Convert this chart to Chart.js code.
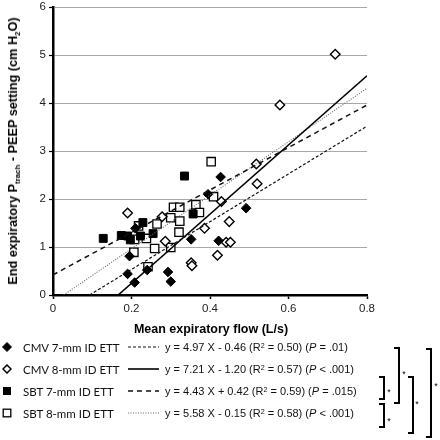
<!DOCTYPE html>
<html>
<head>
<meta charset="utf-8">
<script src="https://cdn.jsdelivr.net/npm/chart.js@4.4.1/dist/chart.umd.min.js"></script>
<style>
  html, body { margin: 0; padding: 0; background: #fff; }
  #wrap { position: relative; width: 440px; height: 440px; overflow: hidden; font-family: "Liberation Sans", Arial, sans-serif; color: #000; }
  #c { position: absolute; left: 0; top: 0; }
  .abs { position: absolute; white-space: nowrap; }
  .ytitle { left: 13px; top: 151px; transform: translate(-50%, -50%) rotate(-90deg); font-weight: bold; font-size: 12.7px; }
  .xtitle { left: 211px; top: 329px; transform: translate(-50%, -50%); font-weight: bold; font-size: 12.5px; }
  sub { font-size: 0.62em; vertical-align: -0.35em; line-height: 0; }
  .lab { font-family: Lato, "Open Sans", sans-serif; font-size: 11.5px; transform: translateY(-50%); color: #111; }
  .eq { font-size: 11px; transform: translateY(-50%); color: #111; }
  .eq sup { font-size: 0.65em; vertical-align: 0.45em; line-height: 0; }
  .br { position: absolute; border-top: 2.5px solid #000; border-right: 2.5px solid #000; border-bottom: 2.5px solid #000; width: 4px; box-sizing: content-box; }
  .star { position: absolute; font-size: 9px; transform: translate(-50%, -50%); }
</style>
</head>
<body>
<div id="wrap">
  <canvas id="c" width="440" height="440"></canvas>
  <div id="overlay"></div>
</div>
<script>
// ---- data ----
const seriesNames = ["CMV 7-mm ID ETT", "CMV 8-mm ID ETT", "SBT 7-mm ID ETT", "SBT 8-mm ID ETT"];
const equations = [
  'y = 4.97 X - 0.46 (R<sup>2</sup> = 0.50) (<i>P</i> = .01)',
  'y = 7.21 X - 1.20 (R<sup>2</sup> = 0.57) (<i>P</i> &lt; .001)',
  'y = 4.43 X + 0.42 (R<sup>2</sup> = 0.59) (<i>P</i> = .015)',
  'y = 5.58 X - 0.15 (R<sup>2</sup> = 0.58) (<i>P</i> &lt; .001)'
];
const xTicks = [0, 0.2, 0.4, 0.6, 0.8];
const yTicks = [0, 1, 2, 3, 4, 5, 6];

const cmv7X = [0.427, 0.395, 0.352, 0.422, 0.195, 0.210, 0.190, 0.240, 0.208, 0.293, 0.300, 0.492];
const cmv7Y = [2.46, 2.10, 1.16, 1.13, 0.81, 1.39, 0.44, 0.52, 0.26, 0.48, 0.28, 1.81];

const cmv8X = [0.719, 0.578, 0.518, 0.520, 0.190, 0.278, 0.286, 0.352, 0.354, 0.386, 0.449, 0.441, 0.452, 0.419, 0.429];
const cmv8Y = [5.02, 3.96, 2.73, 2.32, 1.71, 1.63, 1.12, 0.67, 0.61, 1.39, 1.53, 1.10, 1.10, 0.83, 1.95];

const sbt7X = [0.335, 0.128, 0.174, 0.190, 0.197, 0.223, 0.229, 0.255, 0.357];
const sbt7Y = [2.48, 1.18, 1.24, 1.23, 1.15, 1.23, 1.51, 1.28, 1.69];

const sbt8X = [0.403, 0.409, 0.364, 0.373, 0.307, 0.323, 0.300, 0.323, 0.321, 0.265, 0.238, 0.208, 0.206, 0.259, 0.300, 0.242, 0.218];
const sbt8Y = [2.78, 2.05, 1.88, 1.72, 1.83, 1.83, 1.61, 1.54, 1.31, 1.48, 1.18, 1.16, 0.89, 0.97, 0.99, 0.59, 1.44];

// regression line end points (from the printed equations)
const cmv7FitX = [0.093, 0.8], cmv7FitY = [0, 3.52];
const cmv8FitX = [0.166, 0.8], cmv8FitY = [0, 4.57];
const sbt7FitX = [0, 0.8],     sbt7FitY = [0.42, 3.96];
const sbt8FitX = [0.027, 0.8], sbt8FitY = [0, 4.31];

// ---- build chart ----
const pts = (xs, ys) => xs.map((x, i) => ({ x: x, y: ys[i] }));

const lineStyles = [
  { color: '#111', width: 1.2, dash: [3, 2] },
  { color: '#000', width: 1.6, dash: [] },
  { color: '#111', width: 1.5, dash: [5, 4] },
  { color: '#666', width: 1.1, dash: [1, 1.5] }
];
const fits = [[cmv7FitX, cmv7FitY], [cmv8FitX, cmv8FitY], [sbt7FitX, sbt7FitY], [sbt8FitX, sbt8FitY]];

const lineSets = fits.map((f, i) => ({
  type: 'line',
  label: seriesNames[i] + ' fit',
  data: pts(f[0], f[1]),
  borderColor: lineStyles[i].color,
  borderWidth: lineStyles[i].width,
  borderDash: lineStyles[i].dash,
  pointRadius: 0,
  fill: false,
  tension: 0,
  order: 1
}));

const scatterSets = [
  { label: seriesNames[0], data: pts(cmv7X, cmv7Y), pointStyle: 'rectRot', pointRadius: 4.8, backgroundColor: '#000', borderColor: '#000', borderWidth: 1 },
  { label: seriesNames[1], data: pts(cmv8X, cmv8Y), pointStyle: 'rectRot', pointRadius: 4.8, backgroundColor: '#fff', borderColor: '#000', borderWidth: 1.4 },
  { label: seriesNames[2], data: pts(sbt7X, sbt7Y), pointStyle: 'rect', pointRadius: 5.6, backgroundColor: '#000', borderColor: '#000', borderWidth: 1 },
  { label: seriesNames[3], data: pts(sbt8X, sbt8Y), pointStyle: 'rect', pointRadius: 5.9, backgroundColor: '#fff', borderColor: '#000', borderWidth: 1.3 }
].map(d => Object.assign({ type: 'scatter', showLine: false, order: 2 }, d));

const tickFont = { family: '"Liberation Sans", Arial, sans-serif', size: 11.5 };

new Chart(document.getElementById('c'), {
  type: 'scatter',
  data: { datasets: lineSets.concat(scatterSets) },
  options: {
    responsive: false,
    animation: false,
    events: [],
    layout: { padding: { left: 0, right: 73, top: 7, bottom: 125 } },
    plugins: { legend: { display: false }, tooltip: { enabled: false }, title: { display: false } },
    scales: {
      x: {
        type: 'linear', min: xTicks[0], max: xTicks[xTicks.length - 1],
        afterBuildTicks: s => { s.ticks = xTicks.map(v => ({ value: v })); },
        ticks: { font: tickFont, color: '#222', padding: 3, maxRotation: 0, callback: v => String(v) },
        grid: { drawOnChartArea: false, drawTicks: true, tickLength: 4, tickColor: '#000', tickWidth: 1.5 },
        border: { display: true, color: '#000', width: 2.5 },
        afterFit: s => { s.height = 20; s.paddingLeft = 0; s.paddingRight = 0; }
      },
      y: {
        type: 'linear', min: yTicks[0], max: yTicks[yTicks.length - 1],
        afterBuildTicks: s => { s.ticks = yTicks.map(v => ({ value: v })); },
        ticks: { font: tickFont, color: '#222', padding: 3, callback: v => String(v) },
        grid: { color: '#a8a8a8', lineWidth: 1, drawTicks: true, tickLength: 4, tickColor: '#000', tickWidth: 1.2 },
        border: { display: true, color: '#000', width: 2.5 },
        afterFit: s => { s.width = 53; s.paddingTop = 0; s.paddingBottom = 0; }
      }
    }
  }
});

// ---- overlay text: axis titles, legend table, significance brackets ----
const ov = document.getElementById('overlay');
function add(html) { ov.insertAdjacentHTML('beforeend', html); }

add('<div class="abs ytitle">End expiratory P<sub>trach</sub> - PEEP setting (cm H<sub>2</sub>O)</div>');
add('<div class="abs xtitle">Mean expiratory flow (L/s)</div>');

const rowY = [347, 369, 391, 413];
const markerSvg = [
  '<polygon points="5,0.5 9.5,5 5,9.5 0.5,5" fill="#000" stroke="#000" stroke-width="1"/>',
  '<polygon points="5,1 9,5 5,9 1,5" fill="#fff" stroke="#000" stroke-width="1.5"/>',
  '<rect x="1" y="1" width="8" height="8" fill="#000"/>',
  '<rect x="1.2" y="1.2" width="7.6" height="7.6" fill="#fff" stroke="#000" stroke-width="1.3"/>'
];
seriesNames.forEach((name, i) => {
  const y = rowY[i];
  add('<svg class="abs" style="left:2px;top:' + (y - 5) + 'px" width="10" height="10">' + markerSvg[i] + '</svg>');
  add('<div class="abs lab" style="left:23px;top:' + y + 'px">' + name + '</div>');
  const ls = lineStyles[i];
  add('<svg class="abs" style="left:128px;top:' + (y - 3) + 'px" width="32" height="6"><line x1="0" y1="3" x2="31" y2="3" stroke="' + ls.color + '" stroke-width="' + ls.width + '" stroke-dasharray="' + (ls.dash.length ? ls.dash.join(',') : 'none') + '"/></svg>');
  add('<div class="abs eq" style="left:165px;top:' + y + 'px">' + equations[i] + '</div>');
});

// brackets: [left, top, height]
const brackets = [[379, 376, 20], [379, 403, 21], [394, 347, 53], [408, 376, 54], [426, 348, 86]];
const stars = [[389, 392], [389, 421], [404, 374], [417, 404], [436, 386]];
brackets.forEach(b => add('<div class="br" style="left:' + b[0] + 'px;top:' + b[1] + 'px;height:' + b[2] + 'px"></div>'));
stars.forEach(s => add('<div class="star" style="left:' + s[0] + 'px;top:' + s[1] + 'px">*</div>'));
</script>
</body>
</html>
